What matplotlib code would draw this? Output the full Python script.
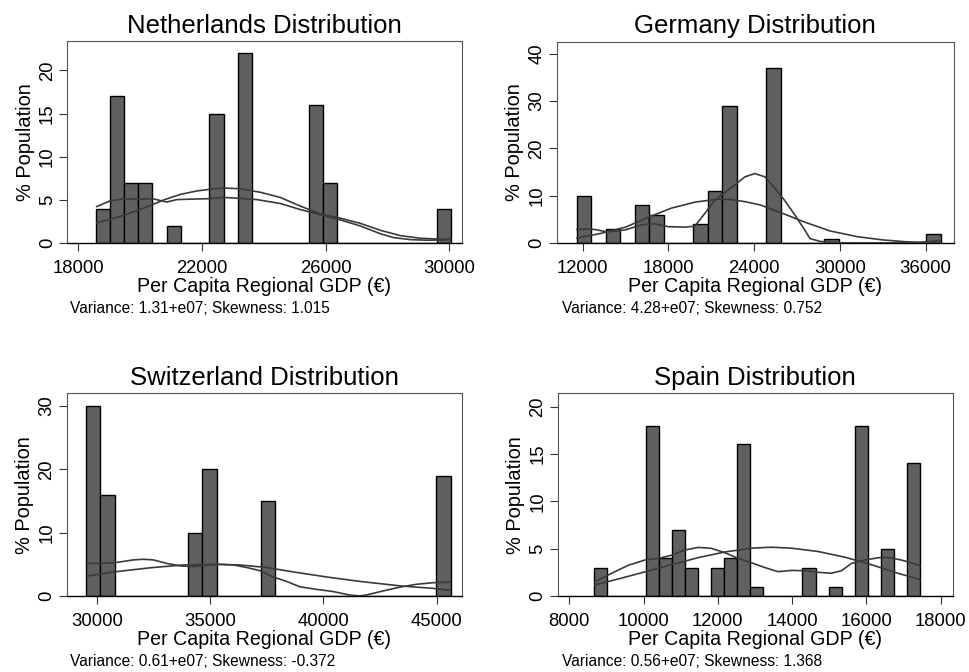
import matplotlib
matplotlib.use("Agg")
import matplotlib.pyplot as plt
import numpy as np

plt.rcParams["font.family"] = ["Liberation Sans", "DejaVu Sans"]

# Netherlands: 25 equal bins between lo and hi, % population per bin
nl_range = (18562, 30054)
nl_counts = [4, 17, 7, 7, 0, 2, 0, 0, 15, 0, 22, 0, 0, 0, 0, 16, 7, 0, 0, 0, 0, 0, 0, 0, 4]
nl_norm_x = [18596, 19458, 20215, 20755, 21296, 21836, 22376, 22700, 23240, 23888, 24535,
             25183, 25831, 26479, 27127, 27775, 28423, 29071, 30044]
nl_norm_y = [2.35, 3.2, 4.2, 5.0, 5.65, 6.05, 6.3, 6.4, 6.3, 5.9, 5.3,
             4.3, 3.4, 2.9, 2.3, 1.5, 0.88, 0.58, 0.42]
nl_kern_x = [18596, 19027, 19458, 20000, 20420, 20647, 20864, 21188, 21620, 22160, 22700,
             23240, 23780, 24535, 25183, 25831, 26479, 27127, 27775, 28207, 28747, 29287,
             29827, 30044]
nl_kern_y = [4.25, 4.9, 5.15, 5.1, 5.15, 4.95, 4.77, 5.05, 5.1, 5.15, 5.3,
             5.2, 5.05, 4.6, 3.9, 3.3, 2.7, 2.0, 1.1, 0.65, 0.42, 0.35,
             0.38, 0.55]

# Germany
de_range = (11580, 37055)
de_counts = [10, 0, 3, 0, 8, 6, 0, 0, 4, 11, 29, 0, 0, 37, 0, 0, 0, 1, 0, 0, 0, 0, 0, 0, 2]
de_norm_x = [11600, 13300, 15000, 16600, 18200, 19900, 21500, 22400, 23300, 24400, 26000,
             27500, 29300, 31200, 33000, 34700, 36100, 37000]
de_norm_y = [1.1, 2.1, 3.4, 5.5, 7.4, 8.7, 9.3, 9.2, 8.8, 8.1, 6.3,
             4.5, 2.6, 1.4, 0.7, 0.3, 0.15, 0.15]
de_kern_x = [11600, 12280, 12860, 13700, 14960, 16125, 17056, 17990, 19150, 19850, 20550,
             21250, 21950, 22650, 23350, 24050, 24750, 25440, 26140, 26840, 27540, 27900,
             28600, 29500, 31000, 33100, 35460, 36400, 36980]
de_kern_y = [2.9, 3.0, 2.9, 2.4, 2.8, 3.9, 4.1, 3.5, 3.4, 3.6, 6.3,
             9.1, 10.7, 12.3, 14.0, 14.7, 14.0, 11.6, 9.0, 6.0, 2.8, 1.0,
             0.4, 0.12, 0.07, 0.07, 0.14, 0.4, 0.56]

# Switzerland
ch_range = (29515, 45615)
ch_counts = [30, 16, 0, 0, 0, 0, 0, 10, 20, 0, 0, 0, 15, 0, 0, 0, 0, 0, 0, 0, 0, 0, 0, 0, 19]
ch_norm_x = [29560, 30880, 32350, 33820, 35290, 36320, 37500, 38680, 40150, 41620, 43380,
             44850, 45590]
ch_norm_y = [3.15, 3.85, 4.45, 4.9, 5.0, 4.9, 4.5, 3.8, 3.0, 2.3, 1.6,
             1.2, 0.9]
ch_kern_x = [29560, 30200, 30880, 31620, 32060, 32500, 33090, 33680, 34260, 34850, 35440,
             36030, 36620, 37200, 37790, 38380, 38970, 39700, 40440, 41170, 41610, 41900,
             42640, 43380, 44110, 44850, 45590]
ch_kern_y = [5.15, 5.15, 5.3, 5.7, 5.8, 5.7, 5.15, 4.75, 4.65, 4.85, 5.0,
             4.9, 4.5, 4.0, 3.0, 2.3, 1.45, 1.05, 0.7, 0.15, 0.02, 0.16,
             0.8, 1.4, 1.85, 2.1, 2.2]

# Spain
es_range = (8664, 17440)
es_counts = [3, 0, 0, 0, 18, 4, 7, 3, 0, 3, 4, 16, 1, 0, 0, 0, 3, 0, 1, 0, 18, 0, 5, 0, 14]
es_norm_x = [8690, 9320, 10040, 10750, 11470, 12190, 12910, 13440, 13980, 14700, 15420,
             16140, 16850, 17440]
es_norm_y = [1.18, 1.8, 2.55, 3.3, 4.05, 4.65, 5.05, 5.15, 5.05, 4.7, 4.1,
             3.3, 2.4, 1.75]
es_kern_x = [8690, 9140, 9590, 10040, 10400, 10750, 11110, 11470, 11830, 12190, 12550,
             12910, 13270, 13620, 13980, 14340, 14700, 15060, 15330, 15600, 15960, 16320,
             16580, 16940, 17210, 17440]
es_kern_y = [1.5, 2.4, 3.25, 3.8, 3.97, 4.3, 4.85, 5.13, 5.03, 4.57, 3.97,
             3.5, 3.0, 2.57, 2.7, 2.67, 2.5, 2.4, 2.67, 3.44, 3.8, 4.04,
             4.08, 3.8, 3.5, 3.2]

panels = [
    ("Netherlands", nl_range, nl_counts, nl_norm_x, nl_norm_y, nl_kern_x, nl_kern_y,
     (17634, 30411), [18000, 22000, 26000, 30000], 23.4, [0, 5, 10, 15, 20],
     "Variance: 1.31+e07; Skewness: 1.015"),
    ("Germany", de_range, de_counts, de_norm_x, de_norm_y, de_kern_x, de_kern_y,
     (10183, 37981), [12000, 18000, 24000, 30000, 36000], 42.5, [0, 10, 20, 30, 40],
     "Variance: 4.28+e07; Skewness: 0.752"),
    ("Switzerland", ch_range, ch_counts, ch_norm_x, ch_norm_y, ch_kern_x, ch_kern_y,
     (28676, 46103), [30000, 35000, 40000, 45000], 32.0, [0, 10, 20, 30],
     "Variance: 0.61+e07; Skewness: -0.372"),
    ("Spain", es_range, es_counts, es_norm_x, es_norm_y, es_kern_x, es_kern_y,
     (7686, 18332), [8000, 10000, 12000, 14000, 16000, 18000], 21.4, [0, 5, 10, 15, 20],
     "Variance: 0.56+e07; Skewness: 1.368"),
]

# axes boxes in figure fractions (left, bottom, width, height)
boxes = [
    (0.0691, 0.638, 0.4076, 0.301),
    (0.5745, 0.638, 0.4100, 0.300),
    (0.0688, 0.1131, 0.4076, 0.3016),
    (0.5755, 0.1131, 0.4079, 0.3016),
]
# where the variance note sits (figure fractions, baseline)
notes = [(0.0722, 0.534), (0.5797, 0.534), (0.0722, 0.009), (0.5797, 0.009)]

fig = plt.figure(figsize=(9.69, 6.72), dpi=100)

for panel, box, note in zip(panels, boxes, notes):
    (name, rng, counts, nx, ny, kx, ky, xlim, xticks, ytop, yticks, text) = panel
    ax = fig.add_axes(box)

    # histogram bars on equal bins
    edges = np.linspace(rng[0], rng[1], len(counts) + 1)
    ax.bar(edges[:-1], counts, width=np.diff(edges), align="edge",
           color="#606060", edgecolor="black", linewidth=1.0, zorder=2)

    # the two density curves
    ax.plot(nx, ny, color="#3a3a3a", linewidth=1.2, zorder=3)
    ax.plot(kx, ky, color="#3a3a3a", linewidth=1.2, zorder=3)

    ax.set_xlim(xlim)
    ax.set_ylim(0, ytop)
    ax.set_xticks(xticks)
    ax.set_yticks(yticks)
    ax.tick_params(axis="both", direction="out", length=5.5, width=0.8,
                   labelsize=13.3, color="#333333")
    ax.tick_params(axis="x", pad=6.5)
    ax.tick_params(axis="y", pad=2.5)
    for lab in ax.get_yticklabels():
        lab.set_rotation(90)
        lab.set_va("center")

    for side in ["top", "right", "left"]:
        ax.spines[side].set_color("#555555")
        ax.spines[side].set_linewidth(0.8)
    ax.spines["bottom"].set_color("black")
    ax.spines["bottom"].set_linewidth(1.0)

    ax.set_title(name + " Distribution", fontsize=18.5, pad=6)
    ax.set_xlabel("Per Capita Regional GDP (\u20ac)", fontsize=14.1, labelpad=0)
    ax.set_ylabel("% Population", fontsize=14.4, labelpad=3)

    fig.text(note[0], note[1], text, fontsize=11.2, va="baseline", ha="left")

fig.savefig("out.png", dpi=100)
